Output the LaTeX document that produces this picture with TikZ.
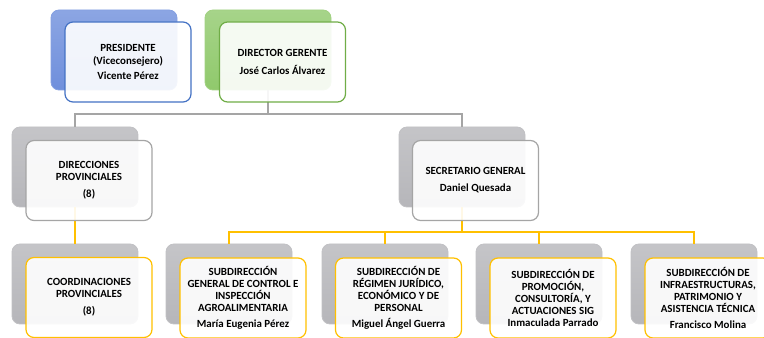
\documentclass[tikz,border=0pt]{standalone}
\usepackage{fontspec}
\setmainfont{Carlito}
\definecolor{azul}{HTML}{4472C4}
\definecolor{verde}{HTML}{70AD47}
\definecolor{gris}{HTML}{A5A5A5}
\definecolor{oro}{HTML}{FFC000}
\definecolor{azulf}{HTML}{6F8FDC}
\definecolor{verdef}{HTML}{90C96C}
\definecolor{grisf}{HTML}{B6B6BA}
\begin{document}
\begin{tikzpicture}[x=0.75pt,y=-0.75pt,
  caja/.style={rounded corners=6pt, minimum width=94.5pt, minimum height=60pt, inner sep=0pt},
  atras/.style={caja, top color=#1!80, bottom color=#1, draw=#1!85!white, line width=0.6pt},
  frente/.style={caja, draw=#1, line width=0.9pt, fill=white, fill opacity=0.9, text opacity=1,
    align=center, font=\fontsize{8.2}{8.9}\selectfont\bfseries},
  enlace/.style={draw=#1, line width=0.9pt}]
\clip (0,0) rectangle (764,338);

% nivel 1
\node [atras=azulf] (presB) at (114,50) {};
\node [atras=verdef] (dirB) at (268,50) {};
% nivel 2
\node [atras=grisf] (direcB) at (75,167) {};
\node [atras=grisf] (secrB) at (462,167) {};
% nivel 3
\node [atras=grisf] (coordB) at (75,284) {};
\node [atras=grisf] (subaB) at (229,284) {};
\node [atras=grisf] (subbB) at (385,284) {};
\node [atras=grisf] (subcB) at (539,284) {};
\node [atras=grisf] (subdB) at (694,284) {};

\coordinate (barra) at (0,114);
\coordinate (barrab) at (0,232);

\draw [enlace=gris] (dirB.south) -- (dirB.south |- barra) -| (direcB.north);
\draw [enlace=gris] (dirB.south |- barra) -| (secrB.north);
\draw [enlace=oro] (direcB.south) -- (coordB.north);
\draw [enlace=oro] (secrB.south) -- (secrB.south |- barrab) -| (subaB.north);
\draw [enlace=oro] (secrB.south |- barrab) -| (subdB.north);
\draw [enlace=oro] (subbB.north |- barrab) -- (subbB.north);
\draw [enlace=oro] (subcB.north |- barrab) -- (subcB.north);

\node [frente=azul] (pres) at (128,62) {PRESIDENTE\\[1pt](Viceconsejero)\\[2pt]Vicente Pérez};
\node [frente=verde] (dir) at (282.5,62) {DIRECTOR GERENTE\\[4pt]José Carlos Álvarez};
\node [frente=gris] (direc) at (89,180.5) {DIRECCIONES\\PROVINCIALES\\[4pt](8)};
\node [frente=gris] (secr) at (475.5,180.5) {SECRETARIO GENERAL\\[4pt]Daniel Quesada};
\node [frente=oro] (coord) at (89,297.5) {COORDINACIONES\\PROVINCIALES\\[4pt](8)};
\node [frente=oro] (suba) at (243,298) {SUBDIRECCIÓN\\GENERAL DE CONTROL E\\INSPECCIÓN\\AGROALIMENTARIA\\[3pt]María Eugenia Pérez};
\node [frente=oro] (subb) at (398.5,298) {SUBDIRECCIÓN DE\\RÉGIMEN JURÍDICO,\\ECONÓMICO Y DE\\PERSONAL\\[3pt]Miguel Ángel Guerra};
\node [frente=oro] (subc) at (553,298) {SUBDIRECCIÓN DE\\PROMOCIÓN,\\CONSULTORÍA, Y\\ACTUACIONES SIG\\Inmaculada Parrado};
\node [frente=oro] (subd) at (708,298) {SUBDIRECCIÓN DE\\INFRAESTRUCTURAS,\\PATRIMONIO Y\\ASISTENCIA TÉCNICA\\[3pt]Francisco Molina};
\end{tikzpicture}
\end{document}
